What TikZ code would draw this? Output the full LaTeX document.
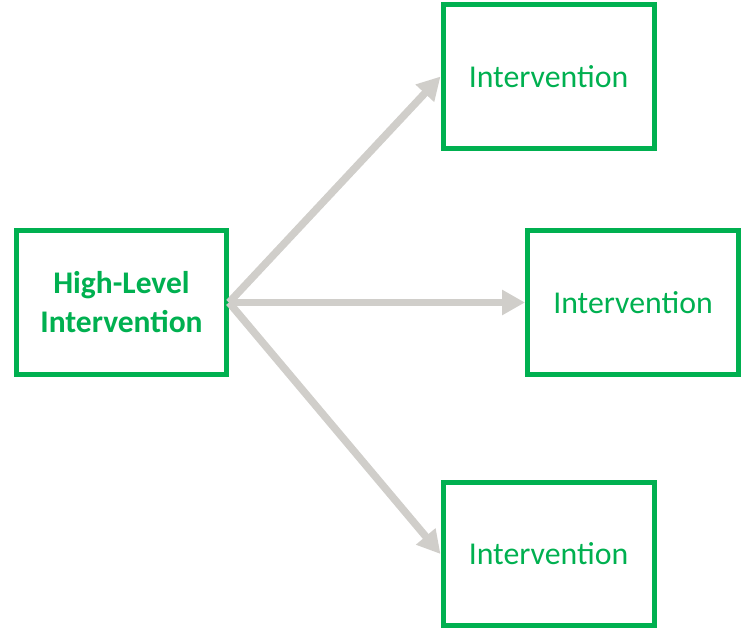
\documentclass[tikz,border=0pt]{standalone}
\usepackage{fontspec}
\setmainfont{Carlito}
\usetikzlibrary{arrows.meta}

\definecolor{boxgreen}{HTML}{00B050}
\definecolor{arrowgray}{HTML}{D0CECA}

\tikzset{
    interv/.style={draw=boxgreen, line width=5pt, text=boxgreen, minimum width=211pt, minimum height=144pt, align=center, font=\fontsize{31.8}{39}\selectfont},
    branch/.style={draw=arrowgray, line width=7.5pt, -{Triangle[length=23pt, width=24pt]}}
}

\begin{document}
\begin{tikzpicture}[x=1pt, y=-1pt]
        \useasboundingbox (0,0) rectangle (743,627);
        \node[interv, minimum width=210pt, font=\fontsize{31.5}{39}\selectfont\bfseries] (high) at (121.5,302.5) {High-Level\\Intervention};
        \node[interv] (upper) at (548.5,76.5) {Intervention};
        \node[interv] (middle) at (633,302.5) {Intervention};
        \node[interv, minimum height=142.5pt] (lower) at (548.5,554) {Intervention};
        \draw[branch] (high.east) -- (upper.west);
        \draw[branch] (high.east) -- (middle.west);
        \draw[branch] (high.east) -- (lower.west);
    \end{tikzpicture}
\end{document}
